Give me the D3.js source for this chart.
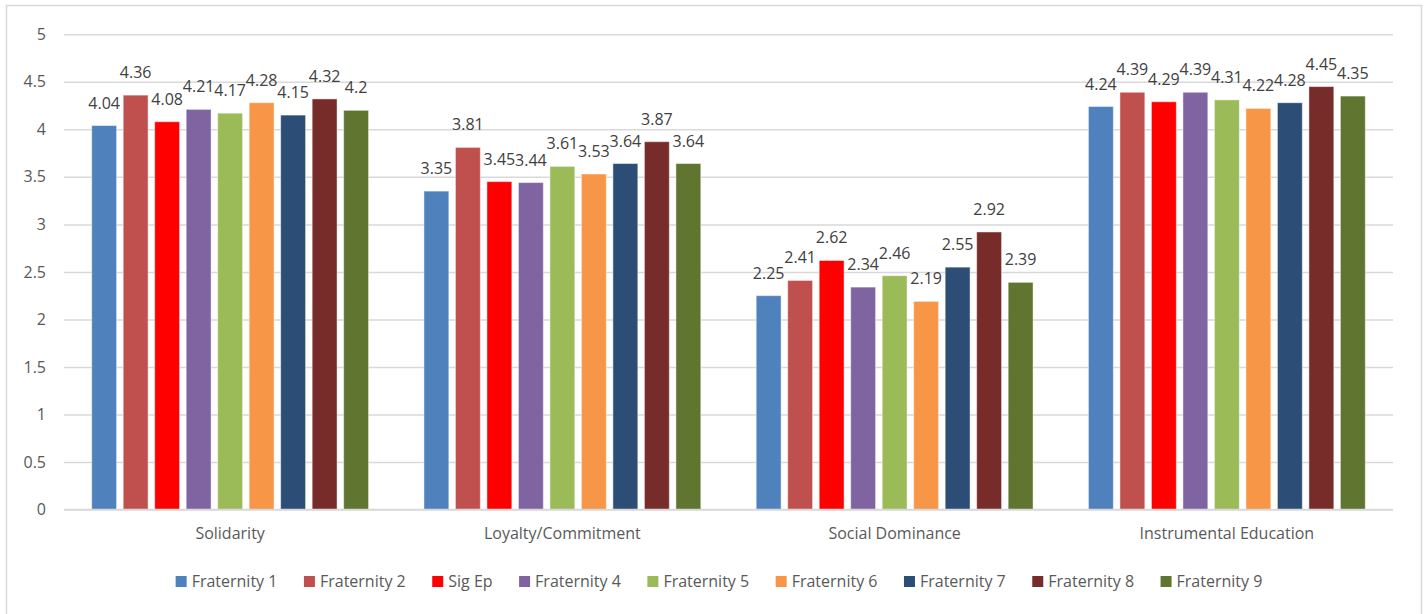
<!DOCTYPE html>
<html>
<head>
<meta charset="utf-8">
<script src="https://cdn.jsdelivr.net/npm/d3@7/dist/d3.min.js"></script>
<style>
  html, body { margin: 0; padding: 0; background: #fff; }
  svg { display: block; font-family: "Open Sans", "Liberation Sans", sans-serif; }
</style>
</head>
<body>
<svg id="chart" width="1428" height="614"></svg>
<script>
// Scale dimensions (x axis groups)
const categories = ["Solidarity", "Loyalty/Commitment", "Social Dominance", "Instrumental Education"];

// Series names, in legend order
const seriesNames = ["Fraternity 1", "Fraternity 2", "Sig Ep", "Fraternity 4", "Fraternity 5",
                     "Fraternity 6", "Fraternity 7", "Fraternity 8", "Fraternity 9"];

// Mean scores per series, one value per category
const fraternity1 = [4.04, 3.35, 2.25, 4.24];
const fraternity2 = [4.36, 3.81, 2.41, 4.39];
const sigEp       = [4.08, 3.45, 2.62, 4.29];
const fraternity4 = [4.21, 3.44, 2.34, 4.39];
const fraternity5 = [4.17, 3.61, 2.46, 4.31];
const fraternity6 = [4.28, 3.53, 2.19, 4.22];
const fraternity7 = [4.15, 3.64, 2.55, 4.28];
const fraternity8 = [4.32, 3.87, 2.92, 4.45];
const fraternity9 = [4.2,  3.64, 2.39, 4.35];

// Y axis ticks
const yTicks = [0, 0.5, 1, 1.5, 2, 2.5, 3, 3.5, 4, 4.5, 5];

const seriesValues = [fraternity1, fraternity2, sigEp, fraternity4, fraternity5,
                      fraternity6, fraternity7, fraternity8, fraternity9];
const colors = ["#4f81bd", "#c0504d", "#ff0000", "#8064a2", "#9bbb59",
                "#f79646", "#2c4d75", "#772c2a", "#5f7530"];

const svg = d3.select("#chart");

// outer chart frame
svg.append("rect")
  .attr("x", 6.5).attr("y", 5.5)
  .attr("width", 1415).attr("height", 640)
  .attr("fill", "none").attr("stroke", "#d9d9d9").attr("stroke-width", 1.5);

const plot = { left: 64, right: 1393, top: 34.3, bottom: 509.5 };

const y = d3.scaleLinear().domain([0, 5]).range([plot.bottom, plot.top]);
const x0 = d3.scaleBand().domain(categories).range([plot.left, plot.right]).padding(0);
const groupInset = 27.7;
const x1 = d3.scaleBand().domain(seriesNames)
  .range([groupInset, x0.bandwidth() - groupInset])
  .paddingInner(0.21).paddingOuter(0);

// gridlines + tick labels
const yAxis = d3.axisLeft(y).tickValues(yTicks).tickSize(-(plot.right - plot.left))
  .tickFormat(d => String(d)).tickPadding(18);
const gy = svg.append("g").attr("transform", `translate(${plot.left},0)`).call(yAxis);
gy.select(".domain").remove();
gy.selectAll(".tick line").attr("stroke", "#d9d9d9").attr("stroke-width", 1.5);
gy.selectAll(".tick text")
  .attr("fill", "#595959").attr("font-size", 16)
  .attr("font-family", "'Open Sans', sans-serif");

// bars
const groups = svg.append("g").selectAll("g")
  .data(categories)
  .join("g")
  .attr("transform", d => `translate(${x0(d)},0)`);

groups.selectAll("rect")
  .data((c, ci) => seriesNames.map((s, si) => ({ s, si, v: seriesValues[si][ci] })))
  .join("rect")
  .attr("x", d => x1(d.s))
  .attr("y", d => y(d.v))
  .attr("width", x1.bandwidth())
  .attr("height", d => y(0) - y(d.v))
  .attr("fill", d => colors[d.si])
  .attr("stroke", "rgba(255,255,255,0.45)")
  .attr("stroke-width", 1);

// value labels
groups.selectAll("text.value")
  .data((c, ci) => seriesNames.map((s, si) => ({ s, si, v: seriesValues[si][ci] })))
  .join("text")
  .attr("class", "value")
  .attr("x", d => x1(d.s) + x1.bandwidth() / 2)
  .attr("y", d => y(d.v) - 17)
  .attr("text-anchor", "middle")
  .attr("font-size", 16)
  .attr("fill", "#404040")
  .text(d => String(d.v));

// baseline
svg.append("line")
  .attr("x1", plot.left).attr("x2", plot.right)
  .attr("y1", y(0)).attr("y2", y(0))
  .attr("stroke", "#d9d9d9").attr("stroke-width", 1.5);

// category labels
svg.append("g").selectAll("text")
  .data(categories)
  .join("text")
  .attr("x", d => x0(d) + x0.bandwidth() / 2)
  .attr("y", 538.5)
  .attr("text-anchor", "middle")
  .attr("font-size", 16)
  .attr("fill", "#595959")
  .text(d => d);

// legend
const legend = svg.append("g");
const items = legend.selectAll("g").data(seriesNames).join("g");
items.append("rect")
  .attr("width", 11).attr("height", 11)
  .attr("y", 576)
  .attr("fill", (d, i) => colors[i]);
items.append("text")
  .attr("x", 16)
  .attr("y", 587.3)
  .attr("font-size", 16)
  .attr("fill", "#595959")
  .text(d => d);
const itemGap = 26.5;
let cx = 0;
items.each(function () {
  const g = d3.select(this);
  const w = 16 + g.select("text").node().getComputedTextLength();
  g.attr("transform", `translate(${cx},0)`);
  cx += w + itemGap;
});
const legendWidth = cx - itemGap;
legend.attr("transform", `translate(${719 - legendWidth / 2},0)`);
</script>
</body>
</html>
